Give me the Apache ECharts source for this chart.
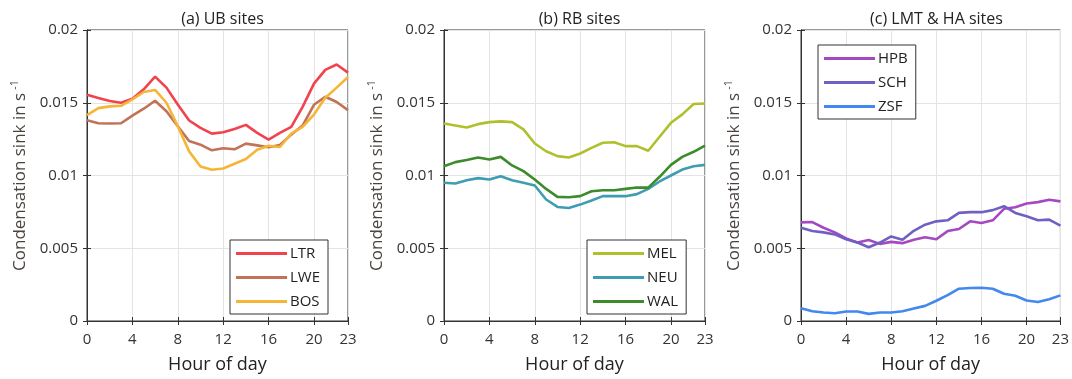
<!DOCTYPE html>
<html><head><meta charset="utf-8">
<script src="https://cdn.jsdelivr.net/npm/echarts@6/dist/echarts.min.js"></script>
<style>html,body{margin:0;padding:0;background:#fff}#c{width:1072px;height:379px}</style>
</head><body><div id="c"></div>
<script>
const hours = Array.from({length:24},(_,i)=>i);
const titles = ['(a) UB sites','(b) RB sites','(c) LMT & HA sites'];
const yTicks = [0, 0.005, 0.01, 0.015, 0.02];
const xTicks = [0,4,8,12,16,20,23];

const LTR = [0.01555,0.01532,0.01512,0.0150,0.01528,0.01592,0.0168,0.01604,0.01488,0.01378,0.01327,0.01288,0.01297,0.0132,0.01348,0.01293,0.01247,0.01293,0.01334,0.01472,0.01631,0.01726,0.01763,0.01707];
const LWE = [0.0138,0.01359,0.01357,0.01359,0.01412,0.01459,0.01514,0.01442,0.01339,0.01237,0.01212,0.01173,0.01187,0.0118,0.01219,0.01207,0.01194,0.0121,0.01281,0.01343,0.01486,0.01541,0.01505,0.01449];
const BOS = [0.01415,0.01463,0.01475,0.01479,0.01523,0.01574,0.01588,0.015,0.01339,0.01166,0.01062,0.01039,0.01048,0.01081,0.01113,0.01177,0.01205,0.01196,0.01288,0.01334,0.01419,0.01535,0.01604,0.01677];
const MEL = [0.01358,0.01344,0.0133,0.01353,0.01367,0.01372,0.01367,0.01317,0.0122,0.01167,0.01133,0.01124,0.01151,0.0119,0.01225,0.01229,0.01202,0.01202,0.0117,0.01266,0.01362,0.0142,0.01491,0.01495];
const NEU = [0.0095,0.00945,0.00968,0.00982,0.00972,0.00995,0.00968,0.0095,0.00931,0.00835,0.00784,0.00777,0.008,0.00828,0.00858,0.00858,0.00858,0.00872,0.00908,0.00959,0.01,0.01041,0.01064,0.01073];
const WAL = [0.01064,0.01092,0.01106,0.01124,0.0111,0.01128,0.01069,0.0103,0.00972,0.00908,0.00853,0.00851,0.00858,0.00892,0.00899,0.00899,0.00908,0.00917,0.00917,0.00991,0.01073,0.01128,0.01163,0.01206];
const HPB = [0.00678,0.0068,0.00641,0.00609,0.00567,0.00539,0.00556,0.0053,0.00544,0.00535,0.00558,0.00576,0.00562,0.00618,0.00632,0.00685,0.00674,0.00692,0.00771,0.00782,0.00808,0.00817,0.00833,0.00822];
const SCH = [0.00641,0.00618,0.00609,0.00595,0.00562,0.00539,0.00507,0.00539,0.00581,0.00558,0.0062,0.00662,0.00685,0.00692,0.00743,0.00748,0.00748,0.00762,0.00789,0.00743,0.0072,0.00692,0.00697,0.00655];
const ZSF = [0.00088,0.00067,0.00058,0.00053,0.00065,0.00065,0.00049,0.00058,0.00058,0.00067,0.00086,0.00104,0.00139,0.00178,0.00222,0.00227,0.00229,0.00222,0.00187,0.00174,0.00141,0.0013,0.0015,0.00176];

const panels = [
  {names:['LTR','LWE','BOS'], data:[LTR,LWE,BOS], colors:['#f2424e','#c27256','#f5b638']},
  {names:['MEL','NEU','WAL'], data:[MEL,NEU,WAL], colors:['#b0c02c','#3e9db0','#3d8c2c']},
  {names:['HPB','SCH','ZSF'], data:[HPB,SCH,ZSF], colors:['#a648c0','#7060c2','#4288ee']}
];

const gridLefts = [87, 444, 801];
const gridW = 261, gridTop = 30, gridH = 292;
const font = '"Open Sans", "Noto Sans", sans-serif';
const txt = '#333333';

const option = {animation:false, title:[], grid:[], xAxis:[], yAxis:[], series:[], legend:[]};
panels.forEach((p,i)=>{
  const L = gridLefts[i];
  option.title.push({text:titles[i], left:L+gridW/2, top:6, textAlign:'center',
    textStyle:{fontFamily:font, fontSize:16, fontWeight:'normal', color:'#222'}});
  option.grid.push({left:L, top:gridTop, width:gridW, height:gridH, show:true, borderColor:'#333', borderWidth:1, backgroundColor:'transparent'});
  option.xAxis.push({type:'value', gridIndex:i, min:0, max:23, interval:4,
    name:'Hour of day', nameLocation:'middle', nameGap:35,
    nameTextStyle:{fontFamily:font, fontSize:18, color:'#222'},
    axisLine:{show:true, lineStyle:{color:'#333'}},
    axisTick:{show:true, inside:true, length:4, lineStyle:{color:'#333'}},
    axisLabel:{fontFamily:font, fontSize:15, color:txt, margin:11},
    splitLine:{show:true, lineStyle:{color:'#e4e4e4', width:1}}});
  option.xAxis.push({type:'value', gridIndex:i, min:0, max:23, interval:4, position:'top',
    axisLine:{show:true, lineStyle:{color:'#333'}},
    axisTick:{show:true, inside:true, length:4, lineStyle:{color:'#333'}},
    axisLabel:{show:false}, splitLine:{show:false}});
  option.yAxis.push({type:'value', gridIndex:i, min:0, max:0.02, interval:0.005,
    name:'Condensation sink in s{sup|-1}', nameLocation:'middle', nameGap:55, nameRotate:90,
    nameTextStyle:{fontFamily:font, fontSize:17, color:'#4a4440', rich:{sup:{fontFamily:font, fontSize:11, color:'#4a4440', verticalAlign:'top', padding:[0,0,12,3]}}},
    axisLine:{show:true, lineStyle:{color:'#333'}},
    axisTick:{show:true, inside:true, length:4, lineStyle:{color:'#333'}},
    axisLabel:{fontFamily:font, fontSize:15, color:txt, margin:9, formatter:v=>String(+v.toFixed(3))},
    splitLine:{show:true, lineStyle:{color:'#e4e4e4', width:1}}});
  option.yAxis.push({type:'value', gridIndex:i, min:0, max:0.02, interval:0.005, position:'right',
    axisLine:{show:true, lineStyle:{color:'#333'}},
    axisTick:{show:true, inside:true, length:4, lineStyle:{color:'#333'}},
    axisLabel:{show:false}, splitLine:{show:false}});
  p.names.forEach((n,k)=>{
    option.series.push({type:'line', name:n, xAxisIndex:2*i, yAxisIndex:2*i,
      data:hours.map((h,j)=>[h,p.data[k][j]]), showSymbol:false, symbol:'none',
      lineStyle:{color:p.colors[k], width:2.6}, itemStyle:{color:p.colors[k]}, z:3+k});
  });
  const legPos = i<2 ? {left:L+gridW-118, top:240} : {left:L+17, top:45};
  option.legend.push(Object.assign({data:p.names, orient:'vertical', icon:'rect', itemWidth:51, itemHeight:3,
    itemGap:9, padding:[6,8,5,6], borderColor:'#333', borderWidth:1, backgroundColor:'#fff',
    textStyle:{fontFamily:font, fontSize:15, color:'#222', padding:[0,0,0,-2]}}, legPos));
});

const chart = echarts.init(document.getElementById('c'), null, {renderer:'canvas'});
chart.setOption(option);
</script></body></html>
